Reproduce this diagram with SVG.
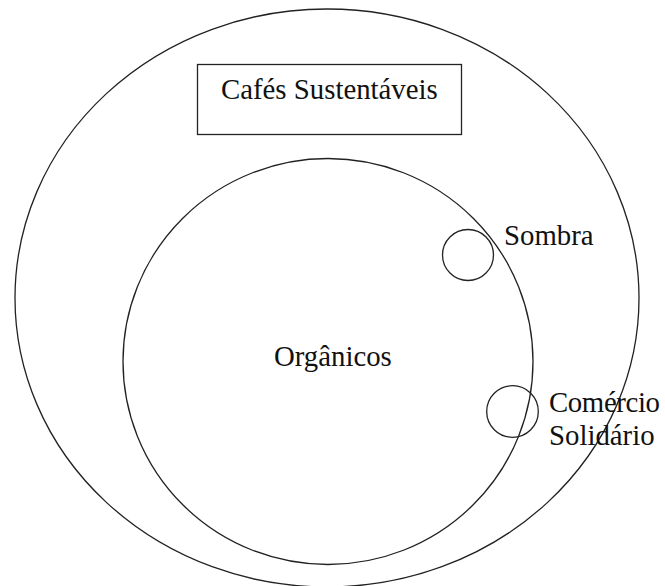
<svg xmlns="http://www.w3.org/2000/svg" width="665" height="586" viewBox="0 0 665 586">
<style>
.ln{fill:none;stroke:#222;stroke-width:1.3}
.t{font-family:"Liberation Serif","Times New Roman",serif;font-size:28.8px;fill:#111}
</style>
<rect width="665" height="586" fill="#fff"/>
<g id="outer"><ellipse class="ln" cx="327" cy="298" rx="312" ry="289"/></g>
<g id="title"><rect class="ln" x="197.5" y="64.5" width="264" height="70" stroke-width="1.6"/><text class="t" x="221" y="99">Cafés Sustentáveis</text></g>
<g id="organicos"><ellipse class="ln" cx="328" cy="361.5" rx="205" ry="203"/><text class="t" x="274" y="366">Orgânicos</text></g>
<g id="sombra"><circle class="ln" cx="468" cy="255" r="25.5"/><text class="t" x="504" y="245">Sombra</text></g>
<g id="comercio"><circle class="ln" cx="512.5" cy="411.5" r="25.8"/><text class="t" x="549" y="412" textLength="111">Comércio</text><text class="t" x="549" y="445">Solidário</text></g>
<g id="connectors"></g>
</svg>
